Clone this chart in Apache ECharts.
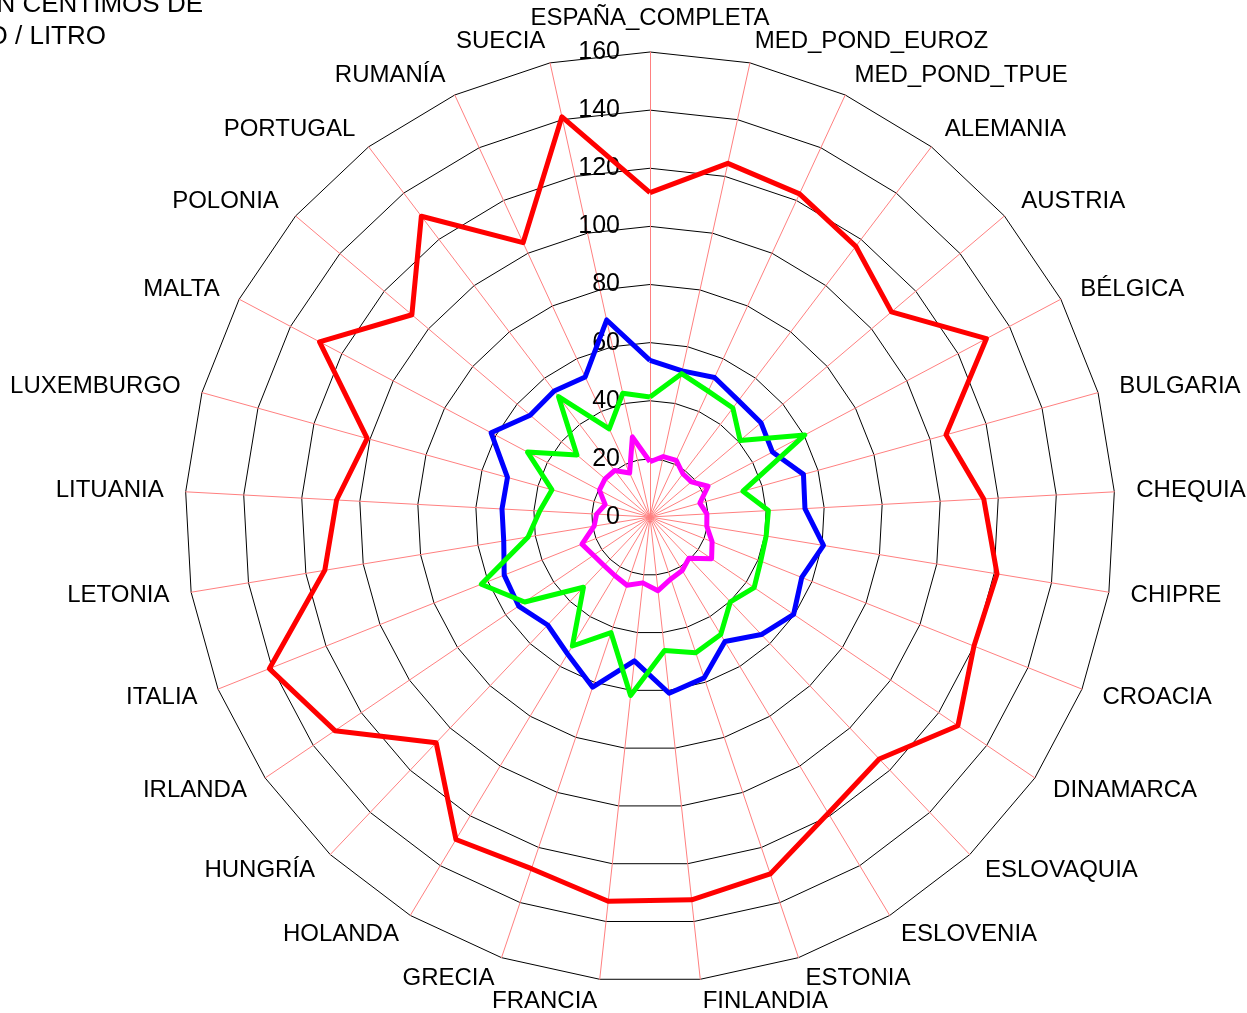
<!DOCTYPE html>
<html>
<head>
<meta charset="utf-8">
<script src="https://cdn.jsdelivr.net/npm/echarts@6/dist/echarts.min.js"></script>
<style>
html, body { margin: 0; padding: 0; background: #fff; }
#main { width: 1247px; height: 1013px; }
</style>
</head>
<body>
<div id="main"></div>
<script>
// categorias (sentido horario desde arriba)
var paises = ['ESPAÑA_COMPLETA', 'MED_POND_EUROZ', 'MED_POND_TPUE', 'ALEMANIA', 'AUSTRIA', 'BÉLGICA',
    'BULGARIA', 'CHEQUIA', 'CHIPRE', 'CROACIA', 'DINAMARCA', 'ESLOVAQUIA', 'ESLOVENIA', 'ESTONIA',
    'FINLANDIA', 'FRANCIA', 'GRECIA', 'HOLANDA', 'HUNGRÍA', 'IRLANDA', 'ITALIA', 'LETONIA', 'LITUANIA',
    'LUXEMBURGO', 'MALTA', 'POLONIA', 'PORTUGAL', 'RUMANÍA', 'SUECIA'];

var serieRoja = [111.6, 124.6, 122.5, 117, 109, 131, 105.7, 115, 121, 120, 128, 114.7, 119, 129.6,
    132.5, 133, 127.7, 129.5, 107, 131, 141, 113.4, 108, 101, 128.7, 107.5, 130, 104, 141];
var serieAzul = [53.9, 51.5, 52.9, 50.3, 50.1, 47.7, 54.8, 53.4, 60.5, 56.2, 59.7, 55.7, 50, 58.4,
    61, 49.8, 61.8, 55, 51.2, 54.6, 54, 51, 51, 50.9, 61.9, 54.1, 54.5, 53.1, 69.4];
var serieVerde = [41.3, 50.5, 47.7, 47.1, 40.7, 60.3, 33.2, 40.8, 40.5, 41, 43.3, 40.2, 47.2, 49.3,
    46.2, 61.8, 42, 51.8, 33.3, 52.1, 62.5, 42.5, 38, 35, 47.7, 33, 52, 33.4, 43.6];
var serieMagenta = [19, 21.3, 21.5, 18.7, 18.7, 22.6, 17.8, 19.6, 19.8, 23, 25.6, 19.5, 21.5, 22.5,
    25.5, 22.8, 24.8, 23.5, 23, 23.5, 25.2, 19.5, 18.4, 16, 19.7, 20.3, 20.1, 16.7, 28.2];

var ejeMin = 0;
var ejeMax = 160;
var titulo1 = 'PRECIOS EN CÉNTIMOS DE';
var titulo2 = 'EURO / LITRO';

var fuente = '"Liberation Sans", Arial, sans-serif';

// el radar de echarts va en sentido antihorario: se invierte el orden
// dejando la primera categoria arriba para que quede horario
var orden = [0];
for (var k = paises.length - 1; k >= 1; k--) orden.push(k);
function reordenar(arr) {
    return orden.map(function (i) { return arr[i]; });
}

var indicadores = orden.map(function (i) {
    var ind = { name: paises[i], min: ejeMin, max: ejeMax };
    if (i === 0) {
        ind.axisLabel = {
            show: true, color: '#000', fontSize: 25, fontFamily: fuente, margin: 30
        };
    }
    return ind;
});

function serie(nombre, valores, color) {
    return {
        type: 'radar',
        name: nombre,
        symbol: 'none',
        silent: true,
        lineStyle: { color: color, width: 5 },
        data: [{ value: reordenar(valores), name: nombre }]
    };
}

var myChart = echarts.init(document.getElementById('main'));
var option = {
    animation: false,
    backgroundColor: '#fff',
    graphic: [
        { type: 'text', x: 203, y: 5, style: { text: titulo1, fill: '#000', font: '26px ' + fuente, textAlign: 'right', textVerticalAlign: 'middle' } },
        { type: 'text', x: 106, y: 37, style: { text: titulo2, fill: '#000', font: '26px ' + fuente, textAlign: 'right', textVerticalAlign: 'middle' } }
    ],
    radar: {
        center: [650, 517],
        radius: 465,
        startAngle: 90,
        shape: 'polygon',
        splitNumber: 8,
        nameGap: 22,
        axisName: { color: '#000', fontSize: 24, fontFamily: fuente },
        axisLine: { lineStyle: { color: '#ff8080', width: 1 } },
        splitLine: { lineStyle: { color: '#000', width: 1 } },
        splitArea: { show: false },
        axisTick: { show: false },
        axisLabel: { show: false },
        indicator: indicadores
    },
    series: [
        serie('Serie 1', serieRoja, '#ff0000'),
        serie('Serie 2', serieAzul, '#0000ff'),
        serie('Serie 3', serieVerde, '#00ff00'),
        serie('Serie 4', serieMagenta, '#ff00ff')
    ]
};
myChart.setOption(option);
</script>
</body>
</html>
